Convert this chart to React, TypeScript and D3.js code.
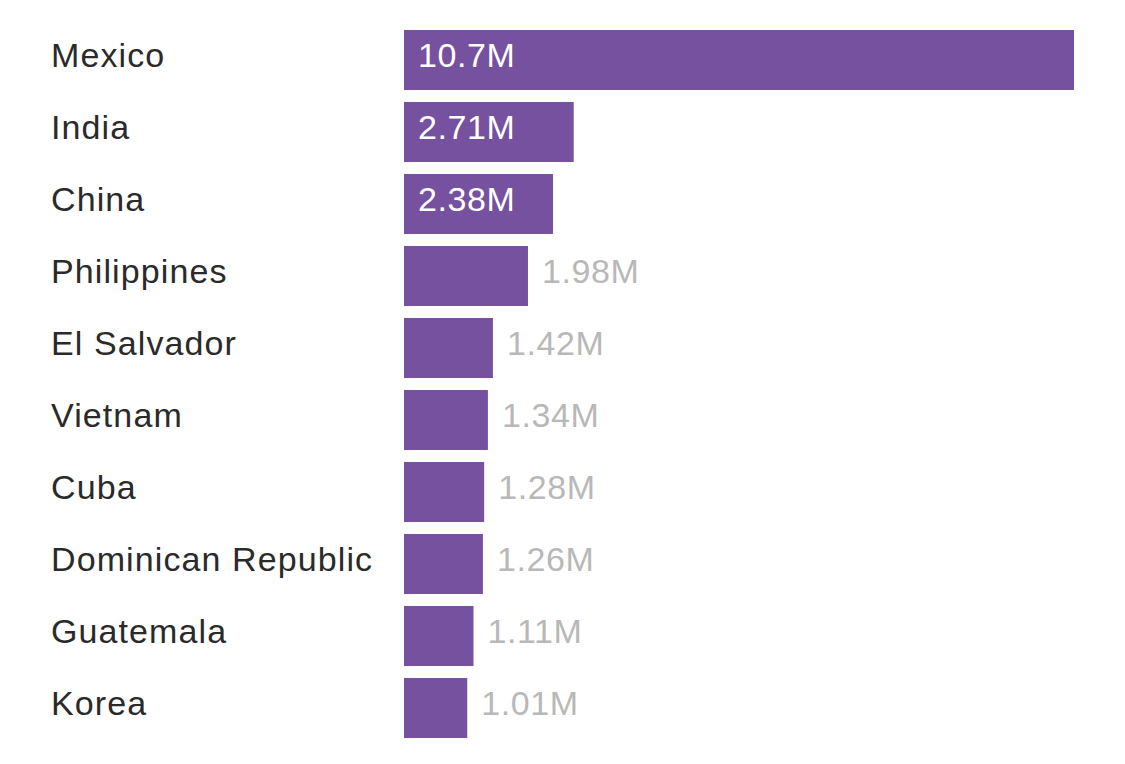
import * as d3 from "d3";
import { useEffect, useRef } from "react";

// immigrant population by country of birth
const countries = [
  "Mexico",
  "India",
  "China",
  "Philippines",
  "El Salvador",
  "Vietnam",
  "Cuba",
  "Dominican Republic",
  "Guatemala",
  "Korea",
];
const values = [10.7, 2.71, 2.38, 1.98, 1.42, 1.34, 1.28, 1.26, 1.11, 1.01];

function App() {
  const ref = useRef<SVGSVGElement | null>(null);

  useEffect(() => {
    const width = 1125,
      height = 764;
    const svg = d3.select(ref.current).attr("width", width).attr("height", height);
    svg.selectAll("*").remove();

    const data = countries.map((c, i) => ({ name: c, value: values[i] }));

    // bars start at x=404, Mexico runs to 1074
    const x = d3.scaleLinear().domain([0, 10.7]).range([404, 1074]);
    const y = d3
      .scaleBand()
      .domain(countries)
      .range([24, 744])
      .paddingInner(1 / 6)
      .paddingOuter(1 / 12);

    const font = "'Liberation Sans', Arial, sans-serif";

    svg
      .selectAll(".bar")
      .data(data)
      .join("rect")
      .attr("class", "bar")
      .attr("x", x(0))
      .attr("y", (d: any) => y(d.name)!)
      .attr("width", (d: any) => x(d.value) - x(0))
      .attr("height", y.bandwidth())
      .attr("fill", "#76519f");

    svg
      .selectAll(".name")
      .data(data)
      .join("text")
      .attr("class", "name")
      .attr("x", 51)
      .attr("y", (d: any) => y(d.name)! + y.bandwidth() / 2 + 7)
      .text((d: any) => d.name)
      .attr("font-family", font)
      .attr("font-size", "34px")
      .attr("letter-spacing", "1.1px")
      .attr("fill", "#2a2a2a");

    // big bars get the label inside in white, small ones outside in grey
    svg
      .selectAll(".val")
      .data(data)
      .join("text")
      .attr("class", "val")
      .attr("x", (d: any) => (d.value > 2 ? x(0) + 14 : x(d.value) + 14))
      .attr("y", (d: any) => y(d.name)! + y.bandwidth() / 2 + 7)
      .text((d: any) => d.value + "M")
      .attr("font-family", font)
      .attr("font-size", "34px")
      .attr("letter-spacing", "0.6px")
      .attr("fill", (d: any) => (d.value > 2 ? "#fff" : "#b8b8b8"));
  }, []);

  return <svg ref={ref} style={{ position: "absolute", left: 0, top: 0 }}></svg>;
}

export default App;
